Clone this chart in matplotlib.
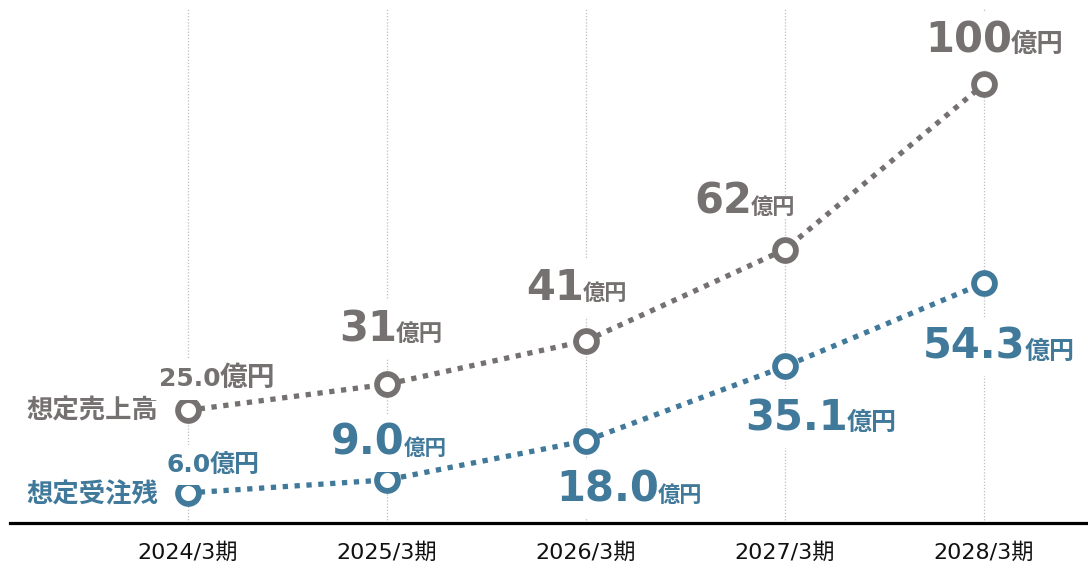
import matplotlib
matplotlib.use("Agg")
from matplotlib import pyplot as plt

# data
periods = ['2024/3期', '2025/3期', '2026/3期', '2027/3期', '2028/3期']
sales = [25.0, 31, 41, 62, 100]
sales_labels = ['25.0', '31', '41', '62', '100']
orders = [6.0, 9.0, 18.0, 35.1, 54.3]
orders_labels = ['6.0', '9.0', '18.0', '35.1', '54.3']
unit = '億円'
sales_name = '想定売上高'
orders_name = '想定受注残'

GRAY = '#767171'
BLUE = '#41799b'
NUM_FONT = ['DejaVu Sans', 'Noto Sans CJK JP']
JP_FONT = ['Noto Sans CJK JP', 'DejaVu Sans']

# label placement: (dx, dy) in pixels from the point to the number/unit split, number size, unit size
sales_pos = [(33, 24, 18, 20), (10, 43, 30, 17), (-2, 41, 30, 16), (-33, 36, 30, 16), (28, 32, 30, 19)]
orders_pos = [(23, 21, 18, 18), (18, 25, 30, 15.5), (73, -61, 30, 16), (63, -64, 30, 18), (42, -76, 30, 18)]

fig = plt.figure(figsize=(10.88, 5.64), dpi=100)
ax = fig.add_axes([10/1088, 41/564, 1078/1088, 523/564])
x = list(range(len(periods)))

for xi in x:
    ax.axvline(xi, ymax=0.985, color='#bfbfbf', lw=0.9, ls=(0, (1, 1.5)), zorder=1)

line_kw = dict(lw=3.8, ls=(0, (1, 1.25)), marker='o', ms=15, mew=4.2,
               markerfacecolor='white', zorder=3)
ax.plot(x, sales, color=GRAY, markeredgecolor=GRAY, **line_kw)
ax.plot(x, orders, color=BLUE, markeredgecolor=BLUE, **line_kw)

def label(xi, v, num, pos, color):
    dx, dy, nsize, usize = pos
    ax.annotate(num, (xi, v), xytext=(dx, dy), textcoords='offset pixels',
                ha='right', va='baseline', fontsize=nsize, fontweight='bold',
                color=color, family=NUM_FONT, zorder=4,
                bbox=dict(facecolor='white', edgecolor='none', pad=6))
    # unit drawn on top of the number's box
    ax.annotate(unit, (xi, v), xytext=(dx - 1, dy), textcoords='offset pixels',
                ha='left', va='baseline', fontsize=usize, fontweight='bold',
                color=color, family=JP_FONT, zorder=5,
                bbox=dict(facecolor='white', edgecolor='none', pad=0))

for xi, v, t, p in zip(x, sales, sales_labels, sales_pos):
    label(xi, v, t, p, GRAY)
for xi, v, t, p in zip(x, orders, orders_labels, orders_pos):
    label(xi, v, t, p, BLUE)

ax.annotate(sales_name, (0, sales[0]), xytext=(-30, -1), textcoords='offset pixels',
            ha='right', va='center', fontsize=19, fontweight='bold', color=GRAY, family=JP_FONT)
ax.annotate(orders_name, (0, orders[0]), xytext=(-30, -2), textcoords='offset pixels',
            ha='right', va='center', fontsize=19, fontweight='bold', color=BLUE, family=JP_FONT)

ax.set_xlim(-0.894, 4.523)
ax.set_ylim(-0.92, 119.4)
ax.set_xticks(x)
ax.set_xticklabels(periods, fontsize=16, family=NUM_FONT, color='#111111')
ax.tick_params(axis='x', length=0, pad=14)
ax.set_yticks([])
for s in ['top', 'left', 'right']:
    ax.spines[s].set_visible(False)
ax.spines['bottom'].set_linewidth(2.3)
ax.spines['bottom'].set_color('black')
ax.patch.set_alpha(0)

fig.savefig('out.png', dpi=100)
